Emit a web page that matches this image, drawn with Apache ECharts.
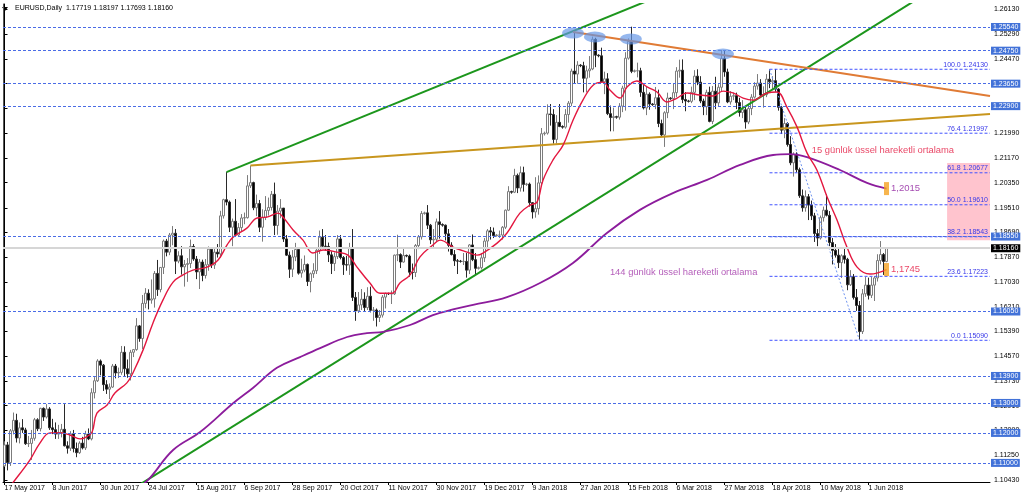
<!DOCTYPE html>
<html><head><meta charset="utf-8">
<script src="https://cdn.jsdelivr.net/npm/echarts@6/dist/echarts.min.js"></script>
<style>html,body{margin:0;padding:0;background:#fff}#c{width:1024px;height:499px}</style>
</head><body><div id="c"></div>
<script>
// ---------- DATA ----------
const symbolName = 'EURUSD,Daily';
const dateLabels = ['17 May 2017','8 Jun 2017','30 Jun 2017','24 Jul 2017','15 Aug 2017','6 Sep 2017','28 Sep 2017','20 Oct 2017','11 Nov 2017','30 Nov 2017','19 Dec 2017','9 Jan 2018','27 Jan 2018','15 Feb 2018','6 Mar 2018','27 Mar 2018','18 Apr 2018','10 May 2018','1 Jun 2018'];
const priceTicks = [1.26130,1.25290,1.24470,1.23650,1.22830,1.21990,1.21170,1.20350,1.19510,1.18690,1.17870,1.17030,1.16210,1.15390,1.14570,1.13730,1.12910,1.12090,1.11250,1.10430];
// daily candles: [open, close, low, high]
const candles = [
[1.1090,1.1160,1.1087,1.1172],[1.1160,1.1101,1.1075,1.1170],[1.1101,1.1207,1.1090,1.1213],[1.1207,1.1242,1.1195,1.1268],[1.1242,1.1183,1.1168,1.1264],
[1.1183,1.1217,1.1165,1.1235],[1.1217,1.1210,1.1200,1.1246],[1.1210,1.1164,1.1160,1.1217],[1.1164,1.1165,1.1153,1.1190],[1.1165,1.1182,1.1110,1.1210],
[1.1182,1.1244,1.1174,1.1250],[1.1244,1.1214,1.1206,1.1249],[1.1214,1.1282,1.1205,1.1284],[1.1282,1.1253,1.1240,1.1285],[1.1253,1.1280,1.1248,1.1296],
[1.1280,1.1217,1.1210,1.1286],[1.1217,1.1211,1.1196,1.1247],[1.1211,1.1196,1.1180,1.1235],[1.1196,1.1201,1.1180,1.1227],[1.1201,1.1212,1.1185,1.1230],
[1.1212,1.1157,1.1155,1.1296],[1.1157,1.1149,1.1131,1.1172],[1.1149,1.1197,1.1140,1.1206],[1.1197,1.1148,1.1135,1.1210],[1.1148,1.1134,1.1119,1.1168],
[1.1134,1.1166,1.1130,1.1172],[1.1166,1.1150,1.1145,1.1187],[1.1150,1.1196,1.1143,1.1207],[1.1196,1.1180,1.1176,1.1215],[1.1180,1.1334,1.1175,1.1349],
[1.1334,1.1374,1.1315,1.1386],[1.1374,1.1440,1.1370,1.1446],[1.1440,1.1426,1.1392,1.1445],[1.1426,1.1361,1.1340,1.1430],[1.1361,1.1346,1.1330,1.1376],
[1.1346,1.1353,1.1313,1.1365],[1.1353,1.1423,1.1350,1.1430],[1.1423,1.1400,1.1382,1.1430],[1.1400,1.1402,1.1383,1.1418],[1.1402,1.1469,1.1394,1.1490],
[1.1469,1.1414,1.1390,1.1489],[1.1414,1.1397,1.1384,1.1445],[1.1397,1.1469,1.1375,1.1477],[1.1469,1.1478,1.1453,1.1480],[1.1478,1.1557,1.1474,1.1583],
[1.1557,1.1515,1.1504,1.1560],[1.1515,1.1632,1.1480,1.1660],[1.1632,1.1666,1.1616,1.1683],[1.1666,1.1643,1.1612,1.1679],[1.1643,1.1647,1.1631,1.1712],
[1.1647,1.1732,1.1618,1.1740],[1.1732,1.1678,1.1657,1.1777],[1.1678,1.1752,1.1669,1.1752],[1.1752,1.1840,1.1730,1.1845],[1.1840,1.1803,1.1789,1.1847],
[1.1803,1.1860,1.1793,1.1867],[1.1860,1.1866,1.1826,1.1890],[1.1866,1.1773,1.1730,1.1880],[1.1773,1.1791,1.1766,1.1806],[1.1791,1.1754,1.1728,1.1823],
[1.1754,1.1762,1.1688,1.1777],[1.1762,1.1765,1.1704,1.1783],[1.1765,1.1822,1.1750,1.1845],[1.1822,1.1780,1.1774,1.1830],[1.1780,1.1737,1.1713,1.1790],
[1.1737,1.1770,1.1680,1.1780],[1.1770,1.1725,1.1706,1.1778],[1.1725,1.1761,1.1715,1.1780],[1.1761,1.1813,1.1741,1.1822],[1.1813,1.1760,1.1750,1.1820],
[1.1760,1.1803,1.1747,1.1815],[1.1803,1.1797,1.1785,1.1830],[1.1797,1.1924,1.1785,1.1941],[1.1924,1.1978,1.1915,1.1981],[1.1978,1.1970,1.1959,1.2070],
[1.1970,1.1886,1.1870,1.1975],[1.1886,1.1906,1.1823,1.1915],[1.1906,1.1860,1.1858,1.1980],[1.1860,1.1885,1.1856,1.1900],[1.1885,1.1917,1.1873,1.1930],
[1.1917,1.1918,1.1896,1.1935],[1.1918,1.2024,1.1915,1.2060],[1.2024,1.2035,1.2017,1.2092],[1.2035,1.1951,1.1943,1.2038],[1.1951,1.1965,1.1923,1.1995],
[1.1965,1.1886,1.1870,1.1977],[1.1886,1.1919,1.1838,1.1946],[1.1919,1.1942,1.1910,1.1990],[1.1942,1.1952,1.1925,1.1985],[1.1952,1.1996,1.1942,1.2007],
[1.1996,1.1892,1.1860,1.2035],[1.1892,1.1940,1.1861,1.1960],[1.1940,1.1950,1.1916,1.1980],[1.1950,1.1847,1.1837,1.1950],[1.1847,1.1793,1.1790,1.1860],
[1.1793,1.1746,1.1717,1.1805],[1.1746,1.1787,1.1720,1.1810],[1.1787,1.1812,1.1773,1.1834],[1.1812,1.1733,1.1728,1.1820],[1.1733,1.1743,1.1718,1.1781],
[1.1743,1.1762,1.1736,1.1792],[1.1762,1.1705,1.1690,1.1765],[1.1705,1.1731,1.1669,1.1735],[1.1731,1.1741,1.1717,1.1766],[1.1741,1.1809,1.1730,1.1820],
[1.1809,1.1853,1.1797,1.1875],[1.1853,1.1823,1.1815,1.1880],[1.1823,1.1822,1.1808,1.1860],[1.1822,1.1794,1.1770,1.1835],[1.1794,1.1765,1.1730,1.1806],
[1.1765,1.1788,1.1740,1.1802],[1.1788,1.1847,1.1780,1.1860],[1.1847,1.1785,1.1779,1.1860],[1.1785,1.1761,1.1727,1.1790],[1.1761,1.1760,1.1741,1.1791],
[1.1760,1.1815,1.1727,1.1834],[1.1815,1.1652,1.1640,1.1880],[1.1652,1.1607,1.1574,1.1670],[1.1607,1.1627,1.1600,1.1670],[1.1627,1.1646,1.1610,1.1680],
[1.1646,1.1618,1.1605,1.1669],[1.1618,1.1656,1.1610,1.1686],[1.1656,1.1609,1.1602,1.1688],[1.1609,1.1610,1.1574,1.1620],[1.1610,1.1585,1.1555,1.1615],
[1.1585,1.1593,1.1570,1.1610],[1.1593,1.1653,1.1585,1.1660],[1.1653,1.1665,1.1615,1.1668],[1.1665,1.1664,1.1660,1.1668],[1.1664,1.1664,1.1630,1.1675],
[1.1664,1.1793,1.1660,1.1795],[1.1793,1.1795,1.1773,1.1861],[1.1795,1.1770,1.1750,1.1799],[1.1770,1.1792,1.1768,1.1820],[1.1792,1.1790,1.1786,1.1795],
[1.1790,1.1736,1.1721,1.1795],[1.1736,1.1735,1.1712,1.1765],[1.1735,1.1825,1.1720,1.1830],[1.1825,1.1854,1.1813,1.1860],[1.1854,1.1932,1.1845,1.1940],
[1.1932,1.1934,1.1928,1.1938],[1.1934,1.1893,1.1880,1.1960],[1.1893,1.1844,1.1830,1.1897],[1.1844,1.1846,1.1820,1.1880],[1.1846,1.1904,1.1837,1.1915],
[1.1904,1.1895,1.1848,1.1940],[1.1895,1.1893,1.1888,1.1899],[1.1893,1.1864,1.1842,1.1895],[1.1864,1.1826,1.1805,1.1880],[1.1826,1.1795,1.1792,1.1836],
[1.1795,1.1774,1.1757,1.1810],[1.1774,1.1773,1.1730,1.1780],[1.1773,1.1772,1.1768,1.1777],[1.1772,1.1772,1.1760,1.1800],[1.1772,1.1743,1.1718,1.1800],
[1.1743,1.1827,1.1730,1.1830],[1.1827,1.1778,1.1773,1.1862],[1.1778,1.1749,1.1730,1.1800],[1.1749,1.1751,1.1745,1.1755],[1.1751,1.1784,1.1745,1.1800],
[1.1784,1.1840,1.1770,1.1850],[1.1840,1.1874,1.1820,1.1880],[1.1874,1.1870,1.1845,1.1887],[1.1870,1.1858,1.1850,1.1885],[1.1858,1.1860,1.1855,1.1863],
[1.1860,1.1860,1.1850,1.1875],[1.1860,1.1886,1.1845,1.1890],[1.1886,1.1943,1.1880,1.1945],[1.1943,1.2005,1.1940,1.2023],[1.2005,1.2003,1.1998,1.2008],
[1.2003,1.2059,1.2000,1.2081],[1.2059,1.2017,1.2000,1.2065],[1.2017,1.2068,1.2005,1.2089],[1.2068,1.2029,1.2005,1.2088],[1.2029,1.2030,1.2024,1.2034],
[1.2030,1.1968,1.1955,1.2035],[1.1968,1.1937,1.1915,1.1970],[1.1937,1.1948,1.1918,1.2053],[1.1948,1.2034,1.1928,1.2059],[1.2034,1.2198,1.2030,1.2217],
[1.2198,1.2200,1.2192,1.2205],[1.2200,1.2264,1.2195,1.2296],[1.2264,1.2262,1.2225,1.2297],[1.2262,1.2179,1.2165,1.2280],[1.2179,1.2236,1.2165,1.2260],
[1.2236,1.2222,1.2220,1.2297],[1.2222,1.2220,1.2215,1.2226],[1.2220,1.2262,1.2215,1.2280],[1.2262,1.2300,1.2235,1.2307],[1.2300,1.2407,1.2290,1.2415],
[1.2407,1.2397,1.2366,1.2537],[1.2397,1.2427,1.2365,1.2440],[1.2427,1.2425,1.2420,1.2430],[1.2425,1.2383,1.2336,1.2438],[1.2383,1.2408,1.2336,1.2425],
[1.2408,1.2414,1.2385,1.2457],[1.2414,1.2513,1.2410,1.2522],[1.2513,1.2460,1.2420,1.2518],[1.2460,1.2458,1.2453,1.2463],[1.2458,1.2371,1.2370,1.2485],
[1.2371,1.2381,1.2330,1.2405],[1.2381,1.2265,1.2260,1.2400],[1.2265,1.2252,1.2206,1.2292],[1.2252,1.2255,1.2206,1.2285],[1.2255,1.2253,1.2248,1.2258],
[1.2253,1.2290,1.2245,1.2300],[1.2290,1.2350,1.2270,1.2358],[1.2350,1.2450,1.2275,1.2470],[1.2450,1.2506,1.2445,1.2516],[1.2506,1.2406,1.2400,1.2555],
[1.2406,1.2408,1.2402,1.2412],[1.2408,1.2408,1.2386,1.2435],[1.2408,1.2336,1.2321,1.2418],[1.2336,1.2284,1.2279,1.2360],[1.2284,1.2330,1.2260,1.2355],
[1.2330,1.2297,1.2278,1.2336],[1.2297,1.2295,1.2291,1.2300],[1.2295,1.2318,1.2280,1.2354],[1.2318,1.2232,1.2220,1.2345],[1.2232,1.2194,1.2190,1.2245],
[1.2194,1.2268,1.2154,1.2273],[1.2268,1.2317,1.2250,1.2335],[1.2317,1.2315,1.2311,1.2320],[1.2315,1.2335,1.2280,1.2365],[1.2335,1.2407,1.2320,1.2420],
[1.2407,1.2410,1.2385,1.2445],[1.2410,1.2312,1.2300,1.2446],[1.2312,1.2307,1.2273,1.2337],[1.2307,1.2306,1.2302,1.2311],[1.2306,1.2336,1.2300,1.2355],
[1.2336,1.2390,1.2310,1.2410],[1.2390,1.2370,1.2360,1.2413],[1.2370,1.2307,1.2300,1.2390],[1.2307,1.2288,1.2260,1.2315],[1.2288,1.2336,1.2260,1.2345],
[1.2336,1.2239,1.2236,1.2355],[1.2239,1.2340,1.2230,1.2357],[1.2340,1.2301,1.2280,1.2388],[1.2301,1.2353,1.2290,1.2363],[1.2353,1.2449,1.2340,1.2477],
[1.2449,1.2404,1.2388,1.2475],[1.2404,1.2304,1.2300,1.2415],[1.2304,1.2323,1.2295,1.2340],[1.2323,1.2325,1.2310,1.2335],[1.2325,1.2302,1.2280,1.2335],
[1.2302,1.2269,1.2255,1.2318],[1.2269,1.2278,1.2250,1.2310],[1.2278,1.2237,1.2215,1.2290],[1.2237,1.2282,1.2230,1.2295],[1.2282,1.2320,1.2260,1.2330],
[1.2320,1.2357,1.2315,1.2370],[1.2357,1.2367,1.2345,1.2397],[1.2367,1.2327,1.2317,1.2380],[1.2327,1.2328,1.2285,1.2356],[1.2328,1.2380,1.2320,1.2397],
[1.2380,1.2371,1.2350,1.2413],[1.2371,1.2375,1.2345,1.2390],[1.2375,1.2347,1.2338,1.2414],[1.2347,1.2286,1.2275,1.2350],[1.2286,1.2210,1.2197,1.2290],
[1.2210,1.2232,1.2183,1.2250],[1.2232,1.2162,1.2155,1.2237],[1.2162,1.2101,1.2093,1.2190],[1.2101,1.2130,1.2055,1.2136],[1.2130,1.2078,1.2069,1.2136],
[1.2078,1.1991,1.1984,1.2085],[1.1991,1.1951,1.1938,1.2012],[1.1951,1.1988,1.1938,1.2009],[1.1988,1.1960,1.1910,1.1997],[1.1960,1.1924,1.1910,1.1975],
[1.1924,1.1865,1.1837,1.1934],[1.1865,1.1850,1.1823,1.1880],[1.1850,1.1918,1.1845,1.1925],[1.1918,1.1943,1.1905,1.1955],[1.1943,1.1926,1.1922,1.1996],
[1.1926,1.1835,1.1823,1.1940],[1.1835,1.1809,1.1762,1.1850],[1.1809,1.1793,1.1785,1.1830],[1.1793,1.1768,1.1750,1.1815],[1.1768,1.1791,1.1717,1.1796],
[1.1791,1.1779,1.1765,1.1815],[1.1779,1.1694,1.1676,1.1784],[1.1694,1.1721,1.1690,1.1743],[1.1721,1.1652,1.1645,1.1730],[1.1652,1.1625,1.1607,1.1680],
[1.1625,1.1538,1.1510,1.1640],[1.1538,1.1664,1.1530,1.1680],[1.1664,1.1693,1.1654,1.1720],[1.1693,1.1659,1.1645,1.1718],[1.1659,1.1693,1.1650,1.1720],
[1.1693,1.1717,1.1640,1.1723],[1.1717,1.1775,1.1705,1.1796],[1.1775,1.1795,1.1762,1.1840],[1.1795,1.1772,1.1727,1.1800],[1.17719,1.18160,1.17693,1.18197]
];
// 15-period EMA (red): [bar, price]
const emaFast = [[0,1.1000],[3.5,1.1043],[8.5,1.1110],[11.8,1.1166],[15.2,1.1200],[18.5,1.1200],[21.8,1.1193],[25.2,1.1180],[27.2,1.1186],[29.2,1.1203],[30.8,1.1266],[34.2,1.1293],[36.8,1.1333],[40.8,1.1367],[42.8,1.1400],[46.2,1.1477],[49.5,1.1567],[52.8,1.1643],[56.2,1.1703],[59.5,1.1727],[62.8,1.1743],[67.5,1.1753],[71.2,1.1777],[74.2,1.1827],[76.2,1.1853],[80.8,1.1883],[84.2,1.1917],[87.5,1.1920],[91.2,1.1933],[92.8,1.1920],[96.2,1.1877],[99.5,1.1843],[102.8,1.1800],[106.2,1.1810],[110.8,1.1803],[114.5,1.1793],[117.5,1.1753],[121.8,1.1700],[125.2,1.1666],[129.2,1.1666],[131.8,1.1700],[135.2,1.1727],[138.5,1.1787],[142.8,1.1827],[145.2,1.1843],[149.5,1.1820],[154.2,1.1803],[157.5,1.1793],[159.5,1.1800],[164.2,1.1833],[167.5,1.1867],[171.8,1.1933],[175.2,1.1960],[177.5,1.1970],[179.5,1.2043],[182.8,1.2110],[186.2,1.2160],[189.5,1.2243],[192.8,1.2310],[196.2,1.2360],[199.5,1.2370],[201.8,1.2344],[205.2,1.2317],[207.5,1.2354],[210.8,1.2374],[214.2,1.2354],[217.5,1.2337],[220.8,1.2304],[224.2,1.2317],[227.5,1.2334],[231.8,1.2327],[236.2,1.2324],[239.5,1.2340],[242.8,1.2334],[246.2,1.2317],[249.5,1.2310],[254.2,1.2334],[257.5,1.2337],[260.8,1.2287],[264.2,1.2220],[267.5,1.2134],[270.8,1.2077],[274.2,1.1987],[277.5,1.1910],[280.8,1.1820],[284.2,1.1753],[288.5,1.1730],[290.8,1.1733],[294,1.1745]];
// 144-period EMA (purple): [bar, price]
const emaSlow = [[45,1.1019],[48.5,1.1050],[56.2,1.1143],[65.2,1.1203],[76.2,1.1299],[82.8,1.1350],[90.8,1.1417],[98.5,1.1453],[105.2,1.1483],[114.2,1.1520],[120.8,1.1533],[126.2,1.1537],[135.2,1.1560],[142.8,1.1593],[149.5,1.1612],[156.2,1.1627],[167.5,1.1653],[178.5,1.1700],[189.5,1.1767],[200.8,1.1867],[211.8,1.1944],[222.8,1.2000],[234.2,1.2044],[245.2,1.2094],[256.2,1.2127],[261.8,1.2130],[267.5,1.2120],[278.5,1.2077],[287.5,1.2034],[294,1.2015]];
// drawn trend lines: [[bar, price],[bar, price]]
const greenLower = [[40,1.0996],[310,1.2683]];
const greenUpper = [[74,1.2070],[230,1.2705]];
const goldLine = [[82,1.2092],[328.5,1.2264]];
const orangeLine = [[189.5,1.2537],[328.5,1.2324]];
const fibDiagonal = [[255,1.2413],[285,1.1509]];
const fibRatios = ['100.0','76.4','61.8','50.0','38.2','23.6','0.0'];
const fibPrices = [1.24130,1.21997,1.20677,1.19610,1.18543,1.17223,1.15090];
const levelPrices = [1.25540,1.24750,1.23650,1.22900,1.18550,1.16050,1.13900,1.13000,1.12000,1.11000];
const currentPrice = 1.18160;
const topMarks = [[189.5,1.2534],[196.8,1.2521],[208.8,1.2514],[239.5,1.2464]];
const pinkZone = [[314.2,1.2100],[328.5,1.1843]];
const emaTags = [{bar:294, price:1.2015, text:'1,2015'},{bar:294, price:1.1745, text:'1,1745'}];
const notes = [
  {text:'15 günlük üssel hareketli ortalama', bar:269.1, price:1.21413},
  {text:'144 günlük üssel hareketli ortalama', bar:201.8, price:1.17344}
];

// ---------- CHART ----------
const nCats = 329, fibStart = 255, rightEdge = 328.5;
const cats = Array.from({length:nCats},(_,i)=>String(i));
const FONT = 'Liberation Sans, Arial, sans-serif';
const last = candles[candles.length-1];
const headerText = symbolName + '  ' + [last[0],last[3],last[2],last[1]].map(v=>v.toFixed(5)).join(' ');
const showIdx = (i)=> i%16===0 && i/16 < dateLabels.length;
const yMin = 1.10363, yMax = 1.26307;
const LEVEL_COLOR = '#4a6ce6';
const FIB_COLOR = '#4152ff';

const lineS = (data,color,width,type,z)=>({type:'line',xAxisIndex:1,yAxisIndex:0,data,symbol:'none',silent:true,z:z||3,
  lineStyle:{color,width,type:type||'solid'},animation:false});

const chart = echarts.init(document.getElementById('c'),null,{renderer:'canvas'});
chart.setOption({
  animation:false,
  backgroundColor:'#ffffff',
  grid:{left:3,right:34,top:4,bottom:17,containLabel:false},
  graphic:[
    {type:'polygon',shape:{points:[[2,7],[8,7],[5,11]]},style:{fill:'#000'}},
    {type:'text',left:15,top:5,style:{text:headerText,font:'7px '+FONT,fill:'#000'}}
  ],
  xAxis:[
    {type:'category',data:cats,boundaryGap:true,
     axisLine:{show:true,lineStyle:{color:'#000',width:1}},
     axisTick:{show:true,alignWithLabel:true,interval:(i)=>showIdx(i),length:3,lineStyle:{color:'#000'}},
     axisLabel:{interval:(i)=>showIdx(i),formatter:(v)=>{const i=Number(v);return showIdx(i)?dateLabels[i/16]:'';},
       align:'left',fontSize:7,fontFamily:FONT,color:'#000',margin:3},
     splitLine:{show:false}},
    {type:'value',min:-0.5,max:nCats-0.5,show:false}
  ],
  yAxis:[
    {type:'value',position:'right',min:yMin,max:yMax,
     axisLine:{show:true,lineStyle:{color:'#000',width:1}},
     axisTick:{show:true,length:3,customValues:priceTicks,lineStyle:{color:'#000'}},
     axisLabel:{customValues:priceTicks,formatter:(v)=>v.toFixed(5),fontSize:7,fontFamily:FONT,color:'#000',margin:4},
     splitLine:{show:false}},
    {type:'value',position:'left',min:yMin,max:yMax,
     axisLine:{show:true,lineStyle:{color:'#555',width:1}},axisTick:{show:false},axisLabel:{show:false},splitLine:{show:false}}
  ],
  series:[
    // current price line (behind)
    {type:'line',xAxisIndex:1,yAxisIndex:0,data:[],z:1,silent:true,
     markLine:{silent:true,symbol:['none','none'],animation:false,precision:5,
       lineStyle:{color:'#d6d6d6',width:2,type:'solid'},
       label:{show:true,position:'end',distance:1,formatter:()=>currentPrice.toFixed(5),color:'#fff',backgroundColor:'#000',
         padding:[1,2,0,2],fontSize:7,fontFamily:FONT},
       data:[{yAxis:currentPrice,lineStyle:{color:'#d6d6d6',width:2,type:'solid'}}]}},
    {type:'candlestick',xAxisIndex:0,yAxisIndex:0,data:candles,barWidth:2,z:2,silent:true,
     itemStyle:{color:'#ffffff',color0:'#000000',borderColor:'#7c7c7c',borderColor0:'#2a2a2a',borderWidth:1}},
    lineS(greenLower,'#1c961c',2),
    lineS(greenUpper,'#1c961c',2),
    lineS(goldLine,'#c8961e',2),
    lineS(orangeLine,'#e07b35',2),
    lineS(fibDiagonal,'#6f94f0',1,[2,2]),
    Object.assign(lineS(emaSlow,'#8c1c9c',1.8,'solid',4),{smooth:0.4}),
    Object.assign(lineS(emaFast,'#e3173f',1.4,'solid',4),{smooth:0.4}),
    // horizontal levels
    {type:'line',xAxisIndex:1,yAxisIndex:0,data:[],z:3,silent:true,
     markLine:{silent:true,symbol:['none','none'],animation:false,precision:5,
       lineStyle:{color:LEVEL_COLOR,width:1,type:[3,2]},
       label:{show:true,position:'end',distance:1,color:'#fff',backgroundColor:'#4272d8',
         padding:[1,2,0,2],fontSize:7,fontFamily:FONT},
       data:levelPrices.map(v=>({yAxis:v,lineStyle:{color:LEVEL_COLOR,width:1,type:[3,2]},
         label:{formatter:v.toFixed(5)}}))}},
    // pink zone
    {type:'line',xAxisIndex:1,yAxisIndex:0,data:[],z:2,silent:true,
     markArea:{silent:true,itemStyle:{color:'#ffc4ce'},data:[[{coord:pinkZone[0]},{coord:pinkZone[1]}]]}},
    // fibonacci level lines
    ...fibPrices.map((p,k)=>({type:'line',xAxisIndex:1,yAxisIndex:0,z:3,silent:true,symbol:'none',animation:false,
      data:[[fibStart,p],[rightEdge,p]],lineStyle:{color:FIB_COLOR,width:1,type:[3,2]},
      endLabel:{show:true,formatter:fibRatios[k]+' '+p.toFixed(5),color:'#3838e8',fontSize:7,fontFamily:FONT,
        align:'right',verticalAlign:'bottom',offset:[-2,-1],distance:0}})),
    // top markers
    {type:'scatter',xAxisIndex:1,yAxisIndex:0,data:topMarks,symbol:'circle',symbolSize:[22,11],z:5,silent:true,
     itemStyle:{color:'rgba(100,150,230,0.85)'}},
    // EMA value tags
    {type:'scatter',xAxisIndex:1,yAxisIndex:0,z:6,silent:true,symbol:'rect',symbolSize:[5,13],
     itemStyle:{color:'#f5a322'},
     data:emaTags.map((t,k)=>({value:[t.bar,t.price],label:{show:true,position:'right',distance:2,formatter:t.text,
       color:k===0?'#8c1c9c':'#e3173f',fontSize:9.5,fontFamily:FONT}}))},
    // notes
    {type:'scatter',xAxisIndex:1,yAxisIndex:0,z:6,silent:true,symbolSize:0,
     data:notes.map((n,k)=>({value:[n.bar,n.price],label:{show:true,position:'right',distance:0,formatter:n.text,
       color:k===0?'#e3173f':'#a033a8',fontSize:9.4,fontFamily:FONT}}))}
  ]
});
</script></body></html>
